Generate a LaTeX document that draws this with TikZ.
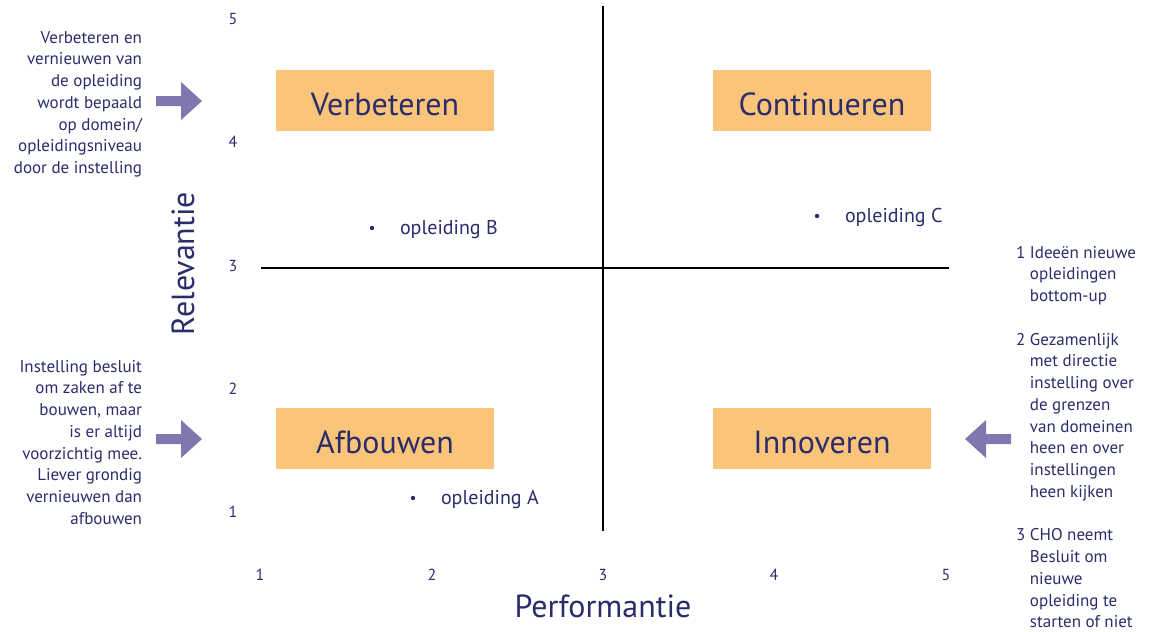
\documentclass[tikz,border=0pt]{standalone}
\usepackage{fontspec}
\setmainfont{PT Sans}
\definecolor{navy}{HTML}{2B2C6A}
\definecolor{boxorange}{HTML}{FBC47B}
\definecolor{arrowpurple}{HTML}{7F78AE}
\tikzset{
  base/.style={inner sep=0pt, outer sep=0pt, text=navy},
  qbox/.style={base, fill=boxorange, minimum width=163.5pt, minimum height=45.75pt,
    text height=21.75pt, text depth=0pt, font=\fontsize{24}{28}\selectfont},
  axisline/.style={line width=1.5pt, draw=black},
  tick/.style={base, font=\fontsize{12}{14}\selectfont},
  axistitle/.style={base, font=\fontsize{24}{28}\selectfont},
  itemlabel/.style={base, font=\fontsize{15}{17}\selectfont},
  side/.style={base, font=\fontsize{12.75}{16.32}\selectfont},
  bullet/.style={circle, fill=navy, inner sep=0pt, minimum size=3.3pt},
  blockarrow/.style={fill=arrowpurple}
}
\begin{document}
\begin{tikzpicture}[x=0.75pt,y=-0.75pt]
\useasboundingbox (0,0) rectangle (1150,632);

% axes
\coordinate (vtop) at (603,6);
\coordinate (vbot) at (603,531);
\coordinate (hleft) at (261,268);
\coordinate (hright) at (949,268);
\draw[axisline] (vtop) -- (vbot);
\draw[axisline] (hleft) -- (hright);

% tick labels
\node[tick] (y5) at (233,19) {5};
\node[tick] (y4) at (233,142) {4};
\node[tick] (y3) at (233,266) {3};
\node[tick] (y2) at (233,389) {2};
\node[tick] (y1) at (233,512) {1};
\node[tick] (x1) at (260,575) {1};
\node[tick] (x2) at (432,575) {2};
\node[tick] (x3) at (603,575) {3};
\node[tick] (x4) at (774,575) {4};
\node[tick] (x5) at (946,575) {5};

% axis titles
\node[axistitle, anchor=base] (perf) at (603,617) {Performantie};
\node[axistitle, anchor=base, rotate=90] (rel) at (194,263.5) {Relevantie};

% quadrant boxes
\node[qbox] (verb) at (385,100.5) {Verbeteren};
\node[qbox] (cont) at (822,100.5) {Continueren};
\node[qbox] (afb) at (385,438.5) {Afbouwen};
\node[qbox] (inn) at (822,438.5) {Innoveren};

% items
\node[bullet] (bB) at (372,228) {};
\node[itemlabel, anchor=base west] (oB) at (400,234) {opleiding B};
\node[bullet] (bC) at (817,216) {};
\node[itemlabel, anchor=base west] (oC) at (845,222) {opleiding C};
\node[bullet] (bA) at (413,498) {};
\node[itemlabel, anchor=base west] (oA) at (441,504) {opleiding A};

% side texts
\node[side, anchor=north east] (t1) at (142,27.8) {%
\begin{tabular}{@{}r@{}}
Verbeteren en\\
vernieuwen van\\
de opleiding\\
wordt bepaald\\
op domein/\\
opleidingsniveau\\
door de instelling
\end{tabular}};
\node[side, anchor=north east] (t2) at (142,356.8) {%
\begin{tabular}{@{}r@{}}
Instelling besluit\\
om zaken af te\\
bouwen, maar\\
is er altijd\\
voorzichtig mee.\\
Liever grondig\\
vernieuwen dan\\
afbouwen
\end{tabular}};
\node[side, anchor=north west] (t3) at (1016,242.8) {%
\begin{tabular}{@{}l@{\hspace{3.5pt}}l@{}}
1 & Ideeën nieuwe\\
  & opleidingen\\
  & bottom-up\\
  & \\
2 & Gezamenlijk\\
  & met directie\\
  & instelling over\\
  & de grenzen\\
  & van domeinen\\
  & heen en over\\
  & instellingen\\
  & heen kijken\\
  & \\
3 & CHO neemt\\
  & Besluit om\\
  & nieuwe\\
  & opleiding te\\
  & starten of niet
\end{tabular}};

% block arrows
\fill[blockarrow] (156,96) -- (181,96) -- (181,82) -- (202,101) -- (181,120) -- (181,106) -- (156,106) -- cycle;
\fill[blockarrow] (156,434) -- (181,434) -- (181,420) -- (202,439) -- (181,458) -- (181,444) -- (156,444) -- cycle;
\fill[blockarrow] (1011,434) -- (986,434) -- (986,420) -- (965,439) -- (986,458) -- (986,444) -- (1011,444) -- cycle;
\end{tikzpicture}
\end{document}
